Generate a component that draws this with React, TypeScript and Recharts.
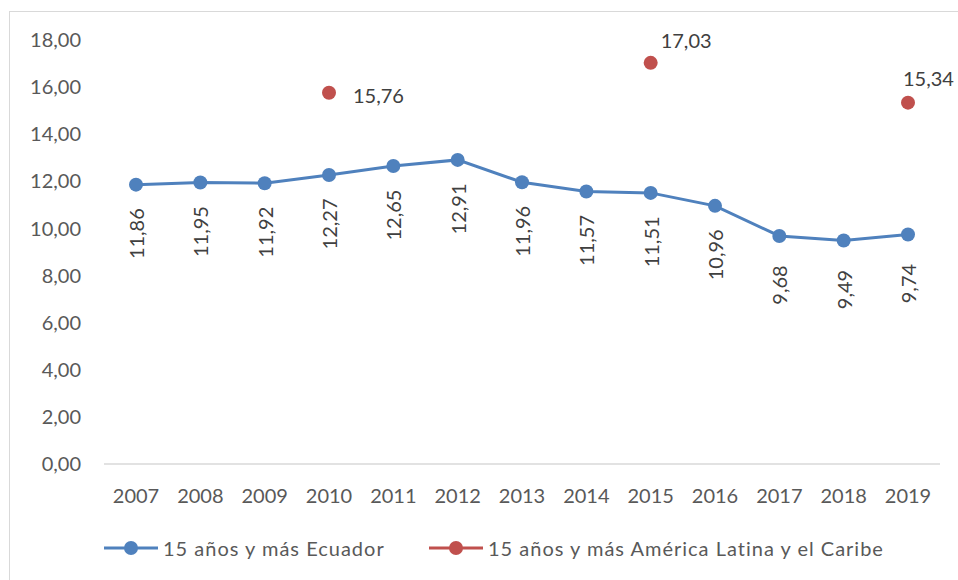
import React from 'react';
import { LineChart, Line, XAxis, YAxis, Legend, LabelList } from 'recharts';

const years = ['2007','2008','2009','2010','2011','2012','2013','2014','2015','2016','2017','2018','2019'];
const ecuador = [11.86, 11.95, 11.92, 12.27, 12.65, 12.91, 11.96, 11.57, 11.51, 10.96, 9.68, 9.49, 9.74];
const latam: (number | null)[] = [null, null, null, 15.76, null, null, null, null, 17.03, null, null, null, 15.34];
const yTicks = [0, 2, 4, 6, 8, 10, 12, 14, 16, 18];
const seriesNames = ['15 años y más Ecuador', '15 años y más América Latina y el Caribe'];

const data = years.map((y, i) => ({ year: y, ecuador: ecuador[i], latam: latam[i] }));

const BLUE = '#4F81BD';
const RED = '#C0504D';
const FONT = 'Lato, "Open Sans", sans-serif';
const fmt = (v: number) => v.toFixed(2).replace('.', ',');

const BlueLabel = (props: any) => {
  const { x, y, value } = props;
  if (value == null) return null;
  const cy = y + 49;
  return (
    <text x={x} y={cy} transform={`rotate(-90 ${x} ${cy})`} textAnchor="middle" dominantBaseline="central"
      fontFamily={FONT} fontSize={20} fill="#404040">{fmt(value)}</text>
  );
};

const redOffsets: Record<number, [number, number]> = { 3: [24, 2], 8: [10, -23], 12: [-5, -25] };
const RedLabel = (props: any) => {
  const { x, y, value, index } = props;
  if (value == null) return null;
  const off = redOffsets[index] || [10, -20];
  return (
    <text x={x + off[0]} y={y + off[1]} textAnchor="start" dominantBaseline="central"
      fontFamily={FONT} fontSize={20} fill="#404040">{fmt(value)}</text>
  );
};

const legendLeft: Record<string, number> = { ecuador: 104, latam: 429 };
const LegendContent = (props: any) => {
  const { payload } = props;
  return (
    <div style={{ height: 30, position: 'relative', fontFamily: FONT, fontSize: 20, color: '#595959' }}>
      {(payload || []).map((p: any, i: number) => (
        <div key={i} style={{ position: 'absolute', left: legendLeft[p.dataKey] ?? 104, top: 0, height: 30, display: 'flex', alignItems: 'center', whiteSpace: 'nowrap' }}>
          <svg width={54} height={30} style={{ display: 'block' }}>
            <line x1={0} y1={15} x2={54} y2={15} stroke={p.color} strokeWidth={3} />
            <circle cx={27} cy={15} r={7} fill={p.color} />
          </svg>
          <span style={{ marginLeft: 5, letterSpacing: 1.0 }}>{p.value}</span>
        </div>
      ))}
    </div>
  );
};

export default function App() {
  return (
    <div style={{ position: 'absolute', left: 0, top: 0, width: 958, height: 580, overflow: 'hidden', background: '#fff' }}>
      <div style={{ position: 'absolute', left: 9, top: 11, width: 1000, height: 1000, border: '1px solid #D9D9D9' }} />
      <div style={{ position: 'absolute', left: 0, top: 0 }}>
        <LineChart width={958} height={580} data={data} margin={{ top: 40, right: 18, left: 0, bottom: 26 }}>
          <XAxis dataKey="year" type="category" padding={{ left: 32, right: 32 }} height={60}
            tickLine={false} tickSize={0} tickMargin={25} axisLine={{ stroke: '#D9D9D9', strokeWidth: 1.5 }}
            tick={{ fill: '#595959', fontSize: 20, fontFamily: FONT }} interval={0} />
          <YAxis width={104} domain={[0, 18]} ticks={yTicks} tickFormatter={fmt} axisLine={false} tickLine={false}
            tickSize={0} tickMargin={23} tick={{ fill: '#595959', fontSize: 20, fontFamily: FONT }} />
          <Legend verticalAlign="bottom" content={<LegendContent />}
            wrapperStyle={{ top: 533, bottom: 'auto', left: 0, width: 958 }} />
          <Line name={seriesNames[0]} dataKey="ecuador" stroke={BLUE} strokeWidth={3} isAnimationActive={false}
            dot={{ r: 7, fill: BLUE, stroke: BLUE, strokeWidth: 0 }} activeDot={false}>
            <LabelList dataKey="ecuador" content={<BlueLabel />} />
          </Line>
          <Line name={seriesNames[1]} dataKey="latam" stroke={RED} strokeWidth={3} isAnimationActive={false}
            dot={{ r: 7, fill: RED, stroke: RED, strokeWidth: 0 }} activeDot={false}>
            <LabelList dataKey="latam" content={<RedLabel />} />
          </Line>
        </LineChart>
      </div>
    </div>
  );
}
